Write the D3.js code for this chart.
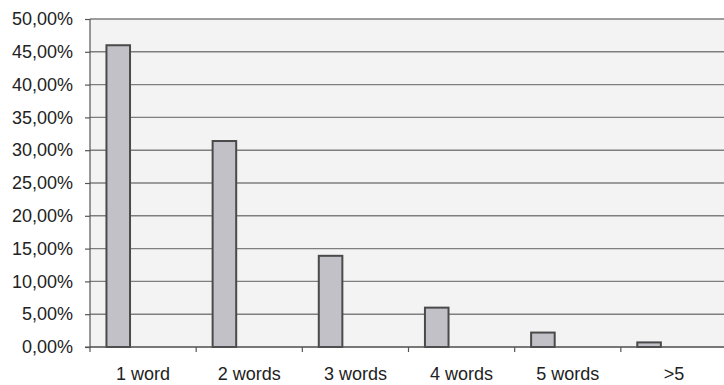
<!DOCTYPE html>
<meta charset="utf-8">
<head>
  <style>
    body {
      margin: 0;
      background: #fff;
      font-family: "Liberation Sans", Arial, sans-serif;
    }
    .grid line {
      stroke: #7e7e7e;
      stroke-width: 1.4px;
    }
    .axis text {
      font: 18px "Liberation Sans", Arial, sans-serif;
      fill: #222;
    }
    .axis path, .axis line {
      stroke: #555;
      stroke-width: 1.2px;
    }
    .bar {
      fill: #c2c1c7;
      stroke: #4a4a4a;
      stroke-width: 2px;
    }
  </style>
</head>
<body>
  <script src="https://d3js.org/d3.v7.min.js"></script>
  <script>
    const categories = ["1 word", "2 words", "3 words", "4 words", "5 words", ">5"];
    const shares = [0.460, 0.314, 0.139, 0.060, 0.022, 0.007];
    const yTicks = [0, 0.05, 0.10, 0.15, 0.20, 0.25, 0.30, 0.35, 0.40, 0.45, 0.50];

    const width = 724, height = 385;
    const margin = {top: 19, right: -3, bottom: 38, left: 90};

    const svg = d3.select("body").append("svg")
      .attr("width", width)
      .attr("height", height);

    const x = d3.scaleBand()
      .domain(categories)
      .range([margin.left, width - margin.right]);

    const y = d3.scaleLinear()
      .domain([0, 0.5])
      .range([height - margin.bottom, margin.top]);

    const fmt = d => d3.format(".2f")(d * 100).replace(".", ",") + "%";

    // plot area background
    svg.append("rect")
      .attr("x", margin.left)
      .attr("y", margin.top)
      .attr("width", width - margin.left)
      .attr("height", y(0) - margin.top)
      .attr("fill", "#f3f3f3");

    // horizontal gridlines
    svg.append("g")
      .attr("class", "grid")
      .selectAll("line")
      .data(yTicks)
      .join("line")
      .attr("x1", margin.left)
      .attr("x2", width)
      .attr("y1", d => y(d))
      .attr("y2", d => y(d));

    // y axis
    const yAxis = svg.append("g")
      .attr("class", "axis")
      .attr("transform", `translate(${margin.left},0)`)
      .call(d3.axisLeft(y).tickValues(yTicks).tickFormat(fmt).tickSize(5).tickPadding(12));
    yAxis.select(".domain").attr("d", `M0,${y(0.5)}V${y(0)}`);

    // bars (offset to the left inside each category, as in the original)
    svg.append("g")
      .selectAll("rect")
      .data(categories)
      .join("rect")
      .attr("class", "bar")
      .attr("x", (d) => x(d) + x.bandwidth() * 0.155)
      .attr("width", x.bandwidth() * 0.222)
      .attr("y", (d, i) => y(shares[i]))
      .attr("height", (d, i) => y(0) - y(shares[i]));

    // x axis: baseline + boundary ticks
    const xAxis = svg.append("g")
      .attr("class", "axis")
      .attr("transform", `translate(0,${y(0)})`);

    xAxis.append("line")
      .attr("x1", margin.left - 5)
      .attr("x2", width)
      .attr("stroke-width", 1.6);

    xAxis.selectAll("line.tick")
      .data(categories)
      .join("line")
      .attr("class", "tick")
      .attr("x1", d => x(d))
      .attr("x2", d => x(d))
      .attr("y1", 0)
      .attr("y2", 5);

    xAxis.selectAll("text")
      .data(categories)
      .join("text")
      .attr("x", d => x(d) + x.bandwidth() / 2)
      .attr("y", 33)
      .attr("text-anchor", "middle")
      .text(d => d);
  </script>
</body>
